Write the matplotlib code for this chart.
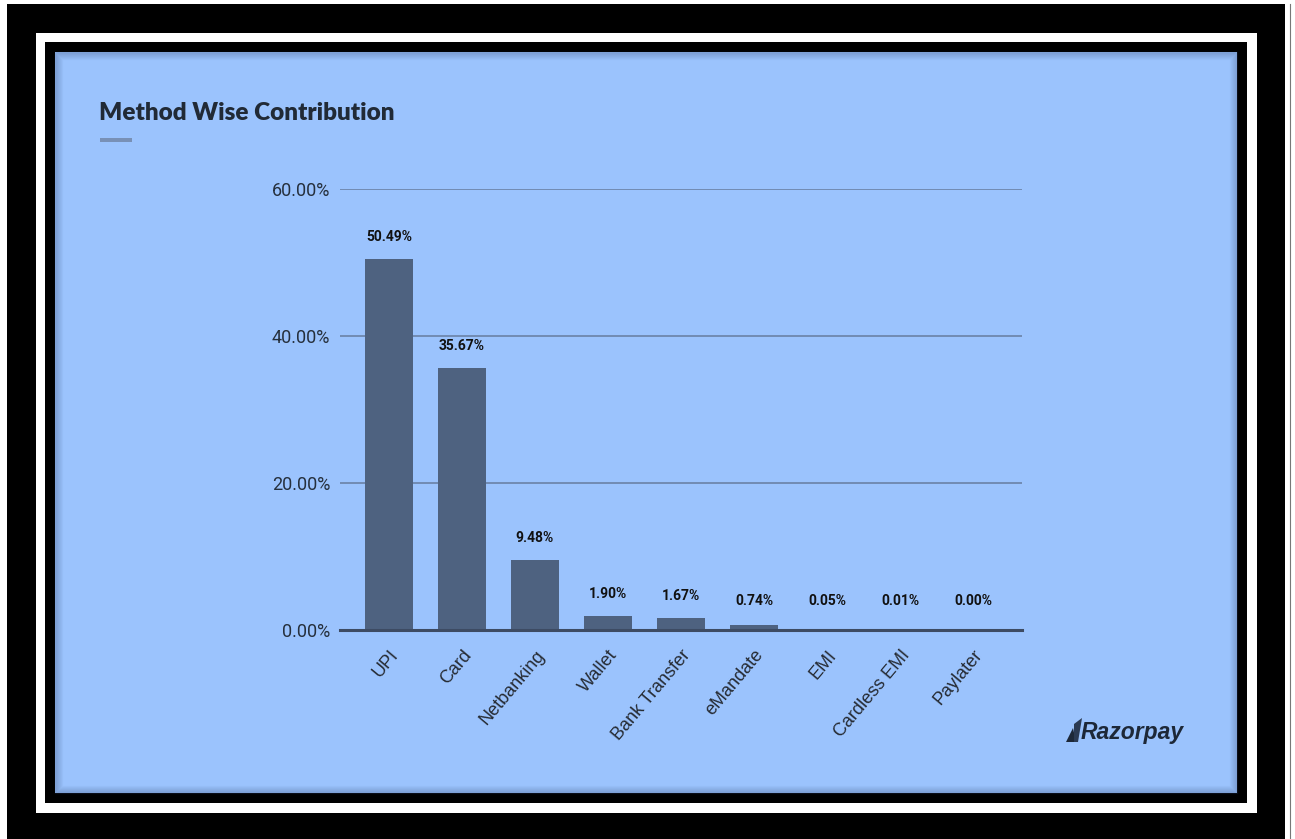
import numpy as np
import matplotlib.pyplot as plt
from matplotlib.patches import Rectangle, Polygon

methods = ['UPI', 'Card', 'Netbanking', 'Wallet', 'Bank Transfer',
           'eMandate', 'EMI', 'Cardless EMI', 'Paylater']
share = [50.49, 35.67, 9.48, 1.90, 1.67, 0.74, 0.05, 0.01, 0.00]
yticks = [0, 20, 40, 60]

W, H = 1295, 839
fig = plt.figure(figsize=(W / 100, H / 100), dpi=100)
fig.patch.set_facecolor('white')

# background layer in pixel coordinates for the frame, title and logo
bg = fig.add_axes([0, 0, 1, 1])
bg.set_xlim(0, W)
bg.set_ylim(H, 0)
bg.axis('off')

def box(x0, y0, x1, y1, color, **kw):
    bg.add_patch(Rectangle((x0, y0), x1 - x0, y1 - y0, facecolor=color,
                           edgecolor='none', **kw))

box(7, 4, 1285, 839, 'black')
box(36, 33, 1257, 813, 'white')
box(45, 42, 1247, 803, 'black')
panel = '#9bc3fd'
box(55, 52, 1237, 793, panel)
bg.plot([1290, 1290], [4, 839], color='#777777', lw=0.8)

# soft inner shadow along the panel edge
for i in range(8):
    a = 0.22 * (1 - i / 8)
    bg.add_patch(Rectangle((55 + i, 52 + i), 1182 - 2 * i, 741 - 2 * i,
                           facecolor='none', edgecolor='#2a3f66',
                           lw=1.0, alpha=a))

bg.text(99, 113, 'Method Wise Contribution', fontsize=17.5, fontweight='heavy',
        family='Lato', color='#212a36', va='center', ha='left')
box(100, 138, 132, 142, '#7890b6')

# logo
bg.add_patch(Polygon([(1066, 742), (1073, 728), (1076, 742)], closed=True,
                     facecolor='#1d2838', edgecolor='none'))
bg.add_patch(Polygon([(1074, 724), (1082, 718), (1078, 742), (1074, 742)],
                     closed=True, facecolor='#2b3a52', edgecolor='none'))
bg.text(1081, 733, 'Razorpay', fontsize=16.5, fontweight='bold',
        fontstyle='italic', family='Liberation Sans', color='#1d2838',
        va='center', ha='left')

# chart
ax = fig.add_axes([340 / W, 1 - 630 / H, 682 / W, 441 / H])
ax.set_facecolor('none')
x = np.arange(len(methods))
ax.bar(x, share, width=0.65, color='#4e6280', zorder=3)
ax.set_xlim(-0.67, len(methods) - 0.33)
ax.set_ylim(0, 60)

for v in yticks[1:]:
    ax.axhline(v, color='#6e87ad', lw=1.3, zorder=1)
ax.axhline(0, color='#3d4b63', lw=2.2, zorder=4, clip_on=False)

for xi, v in zip(x, share):
    ax.text(xi, max(v + 3.0, 3.95), f'{v:.2f}%', ha='center', va='center',
            fontsize=10, fontweight='bold', family='Roboto', color='#111111')

ax.set_yticks(yticks)
ax.set_yticklabels([f'{v:.2f}%' for v in yticks], family='Roboto',
                   fontsize=13, color='#26303d')
ax.set_xticks(x)
ax.set_xticklabels(methods, rotation=50, ha='right', va='top',
                   rotation_mode='anchor', family='Liberation Sans',
                   fontsize=13, color='#262b33')
ax.tick_params(axis='both', length=0)
ax.tick_params(axis='y', pad=7)
ax.tick_params(axis='x', pad=12)
for s in ax.spines.values():
    s.set_visible(False)

fig.savefig('out.png', dpi=100)
